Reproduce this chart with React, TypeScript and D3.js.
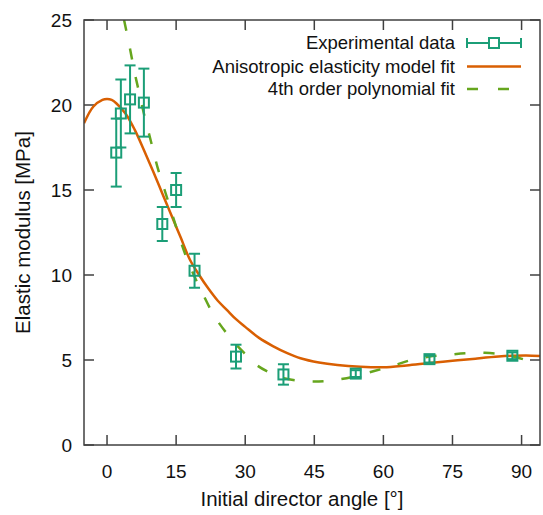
import React from "react";
import * as d3 from "d3";

const angles = [2, 3, 5, 8, 12, 15, 19, 28, 38.3, 54, 70, 88];
const moduli = [17.2, 19.5, 20.33, 20.14, 13.0, 15.0, 10.25, 5.2, 4.15, 4.2, 5.05, 5.25];
const errors = [2.0, 2.0, 2.0, 2.0, 1.0, 1.0, 1.0, 0.7, 0.6, 0.2, 0.2, 0.2];

const modelX = [-5, -3, -1, 0, 1, 2, 4, 6, 8, 10, 12, 14, 16, 18, 20, 22, 24, 26, 28, 30, 33, 36, 39, 42, 46, 50, 55, 60, 65, 70, 75, 80, 85, 88, 91, 94];
const modelY = [18.92, 19.9, 20.3, 20.35, 20.3, 20.1, 19.5, 18.55, 17.35, 16.1, 14.8, 13.5, 12.2, 10.9, 10.0, 9.2, 8.5, 7.95, 7.4, 6.95, 6.3, 5.82, 5.42, 5.1, 4.85, 4.7, 4.6, 4.57, 4.68, 4.82, 4.95, 5.08, 5.2, 5.25, 5.27, 5.24];

const polyX = [3.7, 5, 6, 7, 8, 9.5, 11, 12.5, 14, 15.5, 17, 18.5, 20.5, 23.5, 27.4, 30, 32.5, 35, 37.5, 41, 45, 49, 53.5, 58, 62, 66, 70, 74, 78, 82, 86, 89, 92, 94];
const polyY = [25, 23.3, 21.9, 20.7, 19.5, 17.9, 16.3, 15.0, 13.7, 12.4, 11.2, 10.2, 9.05, 7.5, 6.1, 5.35, 4.7, 4.3, 4.0, 3.8, 3.73, 3.8, 4.02, 4.35, 4.65, 5.0, 5.2, 5.3, 5.4, 5.42, 5.33, 5.15, 4.92, 4.78];

const xTicks = [0, 15, 30, 45, 60, 75, 90];
const yTicks = [0, 5, 10, 15, 20, 25];
const legendLabels = ["Experimental data", "Anisotropic elasticity model fit", "4th order polynomial fit"];

const W = 543;
const H = 515;
const M = { left: 84, right: 540, top: 20, bottom: 445 };
const FONT = "'Liberation Sans', Arial, Helvetica, sans-serif";
const AXIS = "#404040";
const C_DATA = "#1b9e77";
const C_MODEL = "#d95f02";
const C_POLY = "#66a61e";

export default function App() {
  const x = d3.scaleLinear().domain([-5, 94]).range([M.left, M.right]);
  const y = d3.scaleLinear().domain([0, 25]).range([M.bottom, M.top]);

  const line = d3
    .line<[number, number]>()
    .x((d) => x(d[0]))
    .y((d) => y(d[1]))
    .curve(d3.curveCatmullRom.alpha(0.5));

  const modelPath = line(modelX.map((v, i) => [v, modelY[i]] as [number, number])) || "";
  const polyPath = line(polyX.map((v, i) => [v, polyY[i]] as [number, number])) || "";

  const tickLen = 10;
  const box = 10;
  const cap = 5.5;

  const legX0 = 467;
  const legX1 = 521;
  const legTextX = 455;
  const legY = [43, 66.5, 89];

  return (
    <svg
      width={W}
      height={H}
      style={{ position: "absolute", left: 0, top: 0, background: "#fff" }}
      fontFamily={FONT}
    >
      <defs>
        <clipPath id="plotclip">
          <rect x={M.left} y={M.top} width={M.right - M.left} height={M.bottom - M.top} />
        </clipPath>
      </defs>
      <rect x={0} y={0} width={W} height={H} fill="#fff" />

      {xTicks.map((t) => (
        <g key={"xt" + t}>
          <line x1={x(t)} x2={x(t)} y1={M.bottom} y2={M.bottom - tickLen} stroke={AXIS} strokeWidth={1.5} />
          <line x1={x(t)} x2={x(t)} y1={M.top} y2={M.top + tickLen} stroke={AXIS} strokeWidth={1.5} />
          <text x={x(t)} y={478} textAnchor="middle" fontSize={19} fill="#111">
            {t}
          </text>
        </g>
      ))}
      {yTicks.map((t) => (
        <g key={"yt" + t}>
          <line x1={M.left} x2={M.left + tickLen} y1={y(t)} y2={y(t)} stroke={AXIS} strokeWidth={1.5} />
          <line x1={M.right} x2={M.right - tickLen} y1={y(t)} y2={y(t)} stroke={AXIS} strokeWidth={1.5} />
          <text x={72} y={y(t)} dy="0.35em" textAnchor="end" fontSize={19} fill="#111">
            {t}
          </text>
        </g>
      ))}

      <g clipPath="url(#plotclip)">
        <path d={modelPath} fill="none" stroke={C_MODEL} strokeWidth={2.5} />
        <path d={polyPath} fill="none" stroke={C_POLY} strokeWidth={2.5} strokeDasharray="11,18" />
      </g>

      <g clipPath="url(#plotclip)">
        {angles.map((a, i) => {
          const cx = x(a);
          const cy = y(moduli[i]);
          const yt = y(moduli[i] + errors[i]);
          const yb = y(moduli[i] - errors[i]);
          return (
            <g key={"p" + i} stroke={C_DATA} strokeWidth={2} fill="none">
              <line x1={cx} x2={cx} y1={yt} y2={yb} />
              <line x1={cx - cap} x2={cx + cap} y1={yt} y2={yt} />
              <line x1={cx - cap} x2={cx + cap} y1={yb} y2={yb} />
              <rect x={cx - box / 2} y={cy - box / 2} width={box} height={box} />
            </g>
          );
        })}
      </g>

      <rect
        x={M.left}
        y={M.top}
        width={M.right - M.left}
        height={M.bottom - M.top}
        fill="none"
        stroke={AXIS}
        strokeWidth={1.5}
      />

      {legendLabels.map((l, i) => (
        <text key={"lt" + i} x={legTextX} y={legY[i]} dy="0.35em" textAnchor="end" fontSize={18.5} fill="#111">
          {l}
        </text>
      ))}
      <g stroke={C_DATA} strokeWidth={2} fill="none">
        <line x1={legX0} x2={legX1} y1={legY[0]} y2={legY[0]} />
        <line x1={legX0} x2={legX0} y1={legY[0] - 5} y2={legY[0] + 5} />
        <line x1={legX1} x2={legX1} y1={legY[0] - 5} y2={legY[0] + 5} />
        <rect x={(legX0 + legX1) / 2 - box / 2} y={legY[0] - box / 2} width={box} height={box} fill="#fff" />
      </g>
      <line x1={legX0} x2={legX1} y1={legY[1]} y2={legY[1]} stroke={C_MODEL} strokeWidth={2.5} />
      <line x1={legX0} x2={legX1} y1={legY[2]} y2={legY[2]} stroke={C_POLY} strokeWidth={2.5} strokeDasharray="11,20" />

      <text x={302} y={506} textAnchor="middle" fontSize={20.5} fill="#111">
        Initial director angle [°]
      </text>
      <text
        transform={`translate(30, ${(M.top + M.bottom) / 2}) rotate(-90)`}
        textAnchor="middle"
        fontSize={20.5}
        fill="#111"
      >
        Elastic modulus [MPa]
      </text>
    </svg>
  );
}
